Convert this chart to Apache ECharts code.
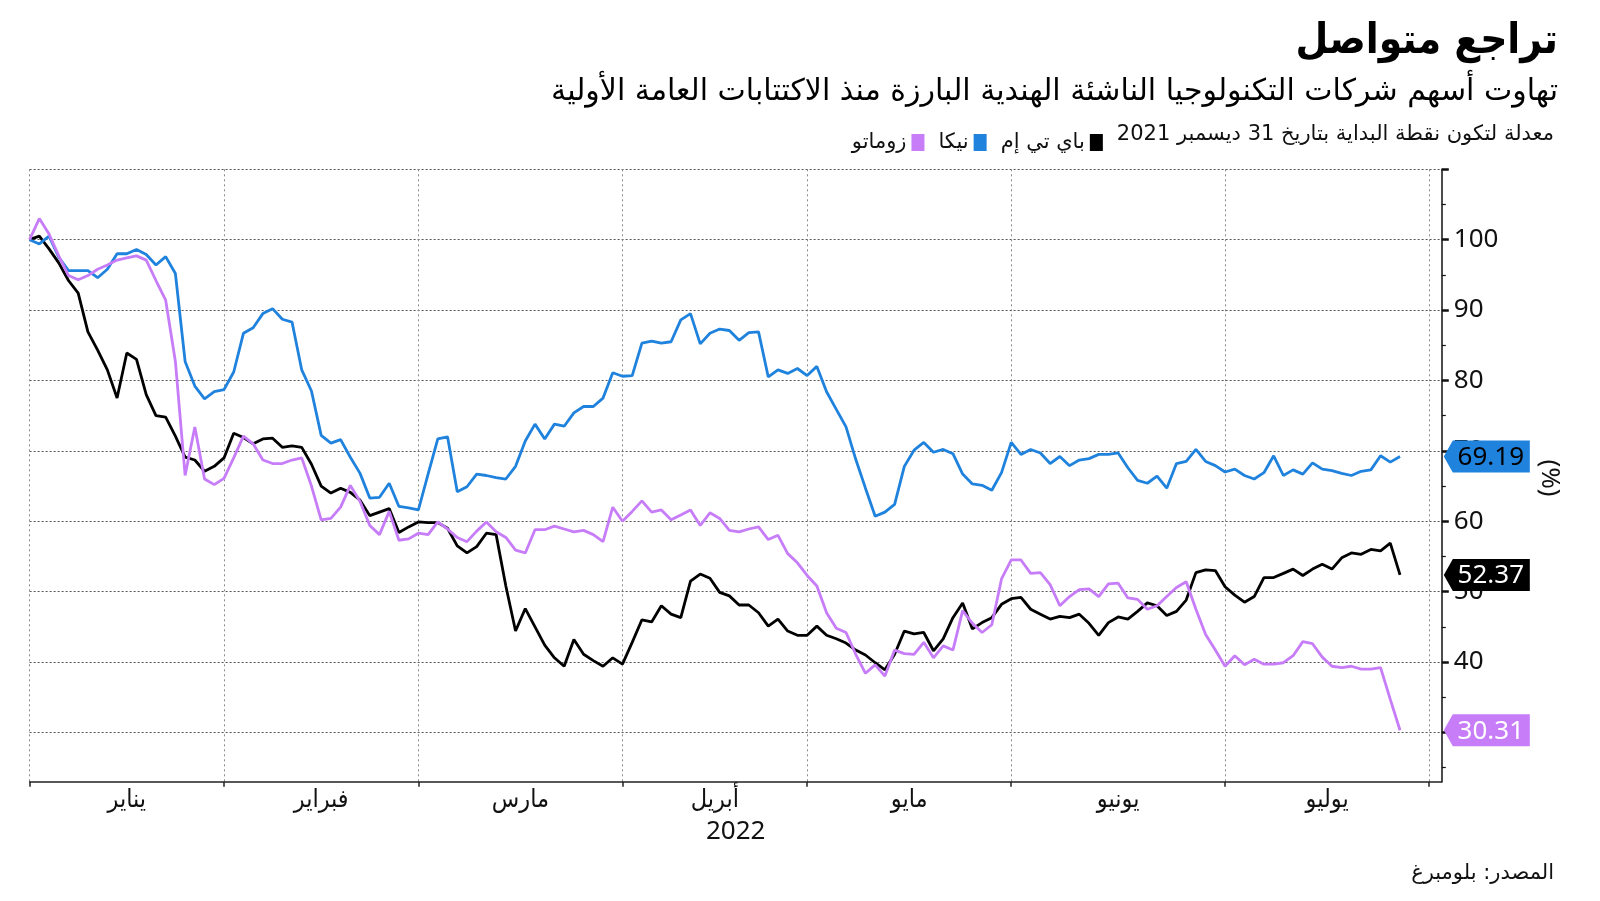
<!DOCTYPE html>
<html>
<head>
<meta charset="utf-8">
<script src="https://cdn.jsdelivr.net/npm/echarts@6/dist/echarts.min.js"></script>
<style>
  html, body { margin: 0; padding: 0; background: #fff; }
  #chart { width: 1600px; height: 901px; }
</style>
</head>
<body>
<div id="chart"></div>
<script>
// أسهم معدلة إلى 100 في 31 ديسمبر 2021، نقطة لكل يوم تداول حتى 26 يوليو 2022
const paytm = [
  100, 100.5, 98.7, 96.7, 94.2, 92.4, 86.9, 84.3, 81.5, 77.5,
  83.9, 83.0, 78.0, 75.0, 74.8, 72.1, 69.1, 68.7, 67.1, 67.8,
  69.0, 72.5, 71.9, 71.0, 71.7, 71.8, 70.5, 70.7, 70.5, 68.1,
  65.0, 64.0, 64.7, 64.1, 63.0, 60.8, 61.3, 61.8, 58.4, 59.2,
  59.9, 59.8, 59.8, 59.0, 56.5, 55.5, 56.4, 58.3, 58.1, 50.8,
  44.4, 47.6, 45.0, 42.4, 40.6, 39.4, 43.2, 41.1, 40.2, 39.4,
  40.6, 39.7, 42.8, 46.0, 45.7, 48.0, 46.8, 46.3, 51.5, 52.5,
  51.9, 49.9, 49.4, 48.1, 48.1, 47.0, 45.1, 46.1, 44.4, 43.8,
  43.8, 45.1, 43.8, 43.3, 42.7, 41.7, 41.0, 39.9, 38.9, 41.1,
  44.4, 44.0, 44.2, 41.6, 43.3, 46.3, 48.4, 44.7, 45.6, 46.3,
  48.2, 49.0, 49.2, 47.5, 46.8, 46.1, 46.5, 46.3, 46.8, 45.5,
  43.8, 45.6, 46.4, 46.1, 47.2, 48.4, 48.0, 46.6, 47.2, 48.8,
  52.7, 53.1, 53.0, 50.7, 49.5, 48.5, 49.3, 52.0, 52.0, 52.6,
  53.2, 52.3, 53.2, 53.9, 53.2, 54.8, 55.5, 55.3, 56.0, 55.8,
  56.9, 52.37
];
const nykaa = [
  100, 99.4, 100.5, 97.5, 95.6, 95.6, 95.6, 94.6, 95.8, 98.0,
  98.0, 98.6, 97.9, 96.4, 97.6, 95.2, 82.7, 79.2, 77.4, 78.4,
  78.7, 81.2, 86.7, 87.5, 89.5, 90.2, 88.7, 88.3, 81.5, 78.5,
  72.2, 71.1, 71.6, 69.1, 66.8, 63.3, 63.4, 65.4, 62.1, 61.9,
  61.6, 66.7, 71.7, 72.0, 64.2, 64.9, 66.7, 66.5, 66.2, 66.0,
  67.8, 71.4, 73.8, 71.7, 73.8, 73.5, 75.4, 76.3, 76.3, 77.5,
  81.1, 80.6, 80.7, 85.3, 85.6, 85.3, 85.5, 88.6, 89.5, 85.2,
  86.7, 87.3, 87.1, 85.7, 86.8, 86.9, 80.5, 81.5, 81.0, 81.7,
  80.7, 82.0, 78.4, 75.9, 73.4, 68.8, 64.7, 60.7, 61.3, 62.4,
  67.8, 70.1, 71.2, 69.8, 70.2, 69.6, 66.7, 65.3, 65.1, 64.4,
  66.9, 71.2, 69.5, 70.2, 69.7, 68.2, 69.2, 67.9, 68.7, 68.9,
  69.5, 69.5, 69.7, 67.6, 65.8, 65.4, 66.4, 64.7, 68.2, 68.5,
  70.2, 68.5, 67.9, 67.0, 67.4, 66.5, 66.0, 66.9, 69.3, 66.5,
  67.3, 66.7, 68.3, 67.4, 67.2, 66.8, 66.5, 67.1, 67.3, 69.3,
  68.4, 69.19
];
const zomato = [
  100, 103.0, 100.8, 97.7, 94.9, 94.3, 94.9, 95.8, 96.4, 97.1,
  97.4, 97.7, 97.1, 94.2, 91.4, 82.7, 66.5, 73.4, 66.0, 65.2,
  66.1, 69.0, 72.1, 71.0, 68.7, 68.2, 68.2, 68.7, 69.0, 65.0,
  60.2, 60.4, 62.0, 65.1, 62.8, 59.4, 58.1, 61.4, 57.3, 57.5,
  58.3, 58.1, 59.9, 58.9, 57.7, 57.1, 58.6, 59.9, 58.5, 57.7,
  55.9, 55.5, 58.8, 58.8, 59.3, 58.9, 58.5, 58.7, 58.1, 57.1,
  62.0, 60.0, 61.4, 62.9, 61.3, 61.6, 60.2, 60.9, 61.6, 59.4,
  61.2, 60.4, 58.7, 58.5, 58.9, 59.2, 57.4, 58.0, 55.4, 54.1,
  52.3, 50.8, 47.0, 44.8, 44.2, 41.1, 38.4, 39.6, 38.0, 41.7,
  41.2, 41.1, 42.8, 40.6, 42.3, 41.7, 47.3, 45.5, 44.2, 45.3,
  51.8, 54.5, 54.5, 52.6, 52.7, 51.0, 48.0, 49.3, 50.3, 50.4,
  49.3, 51.1, 51.2, 49.1, 48.9, 47.5, 48.0, 49.3, 50.6, 51.4,
  47.5, 43.9, 41.7, 39.4, 40.9, 39.6, 40.4, 39.7, 39.7, 39.9,
  40.9, 42.9, 42.6, 40.7, 39.4, 39.2, 39.4, 39.0, 39.0, 39.2,
  34.7, 30.31
];

const monthNames = ['يناير', 'فبراير', 'مارس', 'أبريل', 'مايو', 'يونيو', 'يوليو'];
const tradingDays = [20, 20, 21, 19, 21, 22, 21]; // أيام التداول في كل شهر
const yLabelValues = [30, 40, 50, 60, 70, 80, 90, 100];
const yTickValues = [30, 40, 50, 60, 70, 80, 90, 100, 110];
const yMinorValues = [25, 35, 45, 55, 65, 75, 85, 95, 105];

const Y_MIN = 23;
const Y_MAX = 110;
const X_MAX = 145.3;

const AR_FONT = '"DejaVu Sans", sans-serif';
const AR_COND = '"DejaVu Sans Condensed", "DejaVu Sans", sans-serif';
const NUM_FONT = '"Noto Sans", "DejaVu Sans", sans-serif';

const colors = { paytm: '#000000', nykaa: '#1f82dd', zomato: '#c77cf8' };

// حدود الأشهر (آخر يوم تداول في كل شهر) ومنتصفاتها
const monthEnds = [0];
tradingDays.forEach(d => monthEnds.push(monthEnds[monthEnds.length - 1] + d));
const monthMids = monthNames.map((_, i) => (monthEnds[i] + monthEnds[i + 1]) / 2);

const toPairs = arr => arr.map((v, i) => [i, v]);

const endTag = (values, bg, fg) => ({
  symbol: 'path://M0,16L9,0L86,0L86,32L9,32Z',
  symbolSize: [86, 32],
  symbolOffset: [45, 0],
  symbolKeepAspect: false,
  itemStyle: { color: bg },
  label: {
    show: true,
    position: 'inside',
    offset: [4, 1],
    color: fg,
    fontSize: 26,
    fontFamily: NUM_FONT,
    formatter: p => p.value.toFixed(2)
  },
  z: 10,
  data: [{ coord: [X_MAX, values[values.length - 1]], value: values[values.length - 1] }]
})

const note = 'معدلة لتكون نقطة البداية بتاريخ 31 ديسمبر 2021'
const NOTE_FONT = '21px ' + AR_FONT
const measure = document.createElement('canvas').getContext('2d')
measure.font = NOTE_FONT
const noteWidth = measure.measureText(note).width

const myChart = echarts.init(document.getElementById('chart'))

const option = {
  backgroundColor: '#fff',
  animation: false,
  grid: { left: 29.6, right: 158.2, top: 169.3, bottom: 119.3, containLabel: false },
  legend: {
    data: ['زوماتو', 'نيكا', 'باي تي إم'],
    right: 1600 - (1554 - noteWidth - 9),
    top: 127,
    align: 'right',
    icon: 'rect',
    itemWidth: 13,
    itemHeight: 17,
    itemGap: 14,
    textStyle: { fontSize: 21, fontFamily: AR_FONT, color: '#111' }
  },
  xAxis: {
    type: 'value',
    min: 0,
    max: X_MAX,
    axisLine: { show: true, onZero: false, lineStyle: { color: '#222', width: 1.5 } },
    axisTick: { show: true, customValues: monthEnds, length: 5, lineStyle: { color: '#222', width: 1.5 } },
    axisLabel: {
      customValues: monthMids,
      margin: 6,
      fontSize: 25,
      fontFamily: AR_COND,
      color: '#111',
      formatter: v => {
        let best = 0
        monthMids.forEach((m, i) => { if (Math.abs(m - v) < Math.abs(monthMids[best] - v)) best = i })
        return monthNames[best]
      }
    },
    splitLine: { show: true, lineStyle: { color: '#8a8a8a', width: 1, type: [2, 3] } }
  },
  yAxis: [
    {
      type: 'value',
      position: 'right',
      min: Y_MIN,
      max: Y_MAX,
      axisLine: { show: true, onZero: false, lineStyle: { color: '#111', width: 1.5 } },
      axisTick: { show: true, customValues: yTickValues, length: 7, lineStyle: { color: '#111', width: 2.5 } },
      axisLabel: { customValues: yLabelValues, margin: 12, fontSize: 26, fontFamily: NUM_FONT, color: '#111' },
      splitLine: { show: true, lineStyle: { color: '#555', width: 1, type: [2, 2] } }
    },
    {
      type: 'value',
      position: 'right',
      min: Y_MIN,
      max: Y_MAX,
      axisLine: { show: false, onZero: false },
      axisTick: { show: true, customValues: yMinorValues, length: 4, lineStyle: { color: '#111', width: 1.2 } },
      axisLabel: { show: false },
      splitLine: { show: false }
    }
  ],
  series: [
    {
      name: 'باي تي إم',
      type: 'line',
      data: toPairs(paytm),
      showSymbol: false,
      color: colors.paytm,
      lineStyle: { width: 2.8, color: colors.paytm },
      markPoint: endTag(paytm, colors.paytm, '#fff')
    },
    {
      name: 'نيكا',
      type: 'line',
      data: toPairs(nykaa),
      showSymbol: false,
      color: colors.nykaa,
      lineStyle: { width: 2.8, color: colors.nykaa },
      markPoint: endTag(nykaa, colors.nykaa, '#000')
    },
    {
      name: 'زوماتو',
      type: 'line',
      data: toPairs(zomato),
      showSymbol: false,
      color: colors.zomato,
      lineStyle: { width: 2.8, color: colors.zomato },
      markPoint: endTag(zomato, colors.zomato, '#fff')
    }
  ],
  graphic: [
    { type: 'text', x: 1558, y: 42, style: { text: 'تراجع متواصل', font: 'bold 42px ' + AR_COND, fill: '#000', align: 'right', verticalAlign: 'middle' } },
    { type: 'text', x: 1558, y: 92, style: { text: 'تهاوت أسهم شركات التكنولوجيا الناشئة الهندية البارزة منذ الاكتتابات العامة الأولية', font: '30px ' + AR_FONT, fill: '#000', align: 'right', verticalAlign: 'middle' } },
    { type: 'text', x: 1554, y: 135, style: { text: note, font: NOTE_FONT, fill: '#111', align: 'right', verticalAlign: 'middle' } },
    { type: 'text', x: 735.7, y: 832, style: { text: '2022', font: '26px ' + NUM_FONT, fill: '#111', align: 'center', verticalAlign: 'middle' } },
    { type: 'text', x: 1549, y: 478, rotation: -Math.PI / 2, style: { text: '(%)', font: '26px ' + NUM_FONT, fill: '#111', align: 'center', verticalAlign: 'middle' } },
    { type: 'text', x: 1554, y: 874, style: { text: 'المصدر: بلومبرغ', font: '21px ' + AR_FONT, fill: '#111', align: 'right', verticalAlign: 'middle' } }
  ]
}

myChart.setOption(option)
</script>
</body>
</html>
